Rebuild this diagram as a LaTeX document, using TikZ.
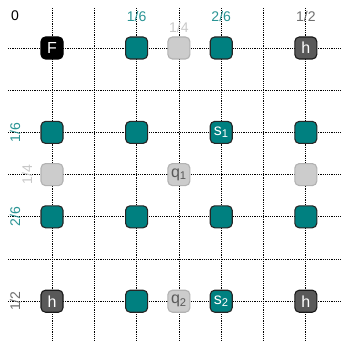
\documentclass[tikz,border=0pt]{standalone}
\usepackage{fontspec}
\setmainfont{Liberation Sans}
\usepackage{xcolor}
\usetikzlibrary{positioning}
\definecolor{cellTeal}{HTML}{008080}
\definecolor{cellGray}{HTML}{CCCCCC}
\definecolor{cellDark}{HTML}{595959}
\definecolor{lblTeal}{HTML}{2A9494}
\definecolor{lblGray}{HTML}{6E6E6E}
\definecolor{lblLight}{HTML}{C8C8C8}
\tikzset{
    cell_base/.style={
        rectangle, rounded corners=4.5pt, line width=1.1pt,
        minimum width=22pt, minimum height=22pt, inner sep=0pt,
        align=center, font=\fontsize{16}{16}\selectfont
    },
    cell_teal/.style={cell_base, draw=black!85, fill=cellTeal, text=white},
    cell_gray/.style={cell_base, draw=black!30, fill=cellGray, text=black!65},
    cell_dark/.style={cell_base, draw=black!90, fill=cellDark, text=white},
    cell_black/.style={cell_base, draw=black, fill=black, text=white},
    grid_line/.style={black, line width=0.75pt, dash pattern=on 1.2pt off 1pt},
    lbl/.style={font=\fontsize{14}{14}\selectfont, inner sep=0pt}
}

\begin{document}
\begin{tikzpicture}[x=1pt, y=-1pt]
    \useasboundingbox (0,0) rectangle (344,347);

    % Dotted grid
    \foreach \gx in {52, 94.3, 136.6, 178.9, 221.2, 263.5, 305.8}
        \draw[grid_line] (\gx, 8) -- (\gx, 341);
    \foreach \gy in {48, 90.2, 132.4, 174.6, 216.8, 259, 301.2}
        \draw[grid_line] (8, \gy) -- (341, \gy);

    % Axis labels, top
    \node[lbl, text=black] (lbl_zero) at (15, 16) {0};
    \node[lbl, text=lblTeal] (top_sixth) at (136.6, 16) {1/6};
    \node[lbl, text=lblLight] (top_quarter) at (178.9, 27) {1/4};
    \node[lbl, text=lblTeal] (top_twosixth) at (221.2, 16) {2/6};
    \node[lbl, text=lblGray] (top_half) at (305.8, 16) {1/2};

    % Axis labels, left
    \node[lbl, text=lblTeal, rotate=90] (left_sixth) at (15, 132.4) {1/6};
    \node[lbl, text=lblLight, rotate=90] (left_quarter) at (27, 174.6) {1/4};
    \node[lbl, text=lblTeal, rotate=90] (left_twosixth) at (15, 216.8) {2/6};
    \node[lbl, text=lblGray, rotate=90] (left_half) at (15, 301.2) {1/2};

    % Row 0
    \node[cell_black] (cell_F) at (52, 48) {F};
    \node[cell_teal] (r0_c2) at (136.6, 48) {};
    \node[cell_gray] (r0_c3) at (178.9, 48) {};
    \node[cell_teal] (r0_c4) at (221.2, 48) {};
    \node[cell_dark] (h_top) at (305.8, 48) {h};

    % Row 2
    \node[cell_teal] (r2_c0) at (52, 132.4) {};
    \node[cell_teal] (r2_c2) at (136.6, 132.4) {};
    \node[cell_teal] (s_one) at (221.2, 132.4) {s\textsubscript{1}};
    \node[cell_teal] (r2_c6) at (305.8, 132.4) {};

    % Row 3
    \node[cell_gray] (r3_c0) at (52, 174.6) {};
    \node[cell_gray] (q_one) at (178.9, 174.6) {q\textsubscript{1}};
    \node[cell_gray] (r3_c6) at (305.8, 174.6) {};

    % Row 4
    \node[cell_teal] (r4_c0) at (52, 216.8) {};
    \node[cell_teal] (r4_c2) at (136.6, 216.8) {};
    \node[cell_teal] (r4_c4) at (221.2, 216.8) {};
    \node[cell_teal] (r4_c6) at (305.8, 216.8) {};

    % Row 6
    \node[cell_dark] (h_left) at (52, 301.2) {h};
    \node[cell_teal] (r6_c2) at (136.6, 301.2) {};
    \node[cell_gray] (q_two) at (178.9, 301.2) {q\textsubscript{2}};
    \node[cell_teal] (s_two) at (221.2, 301.2) {s\textsubscript{2}};
    \node[cell_dark] (h_corner) at (305.8, 301.2) {h};
\end{tikzpicture}
\end{document}
